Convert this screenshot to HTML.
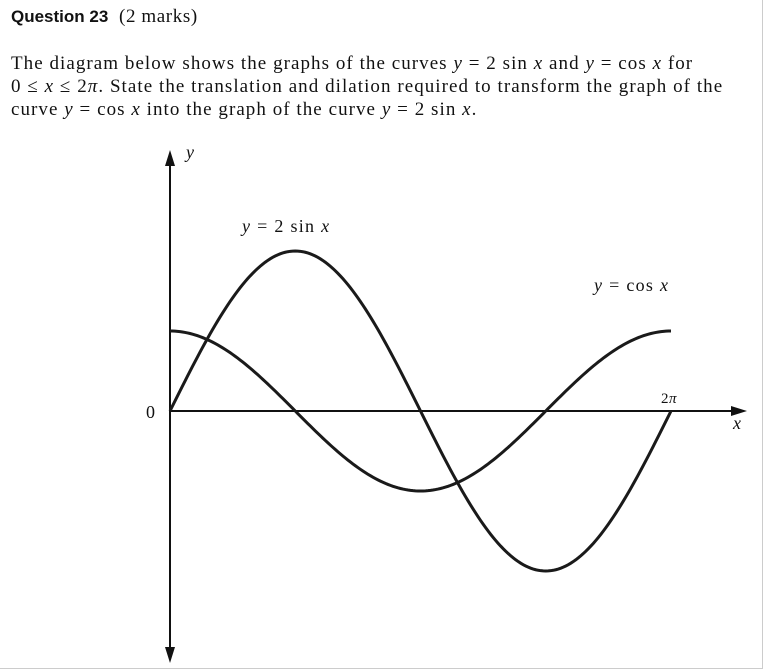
<!DOCTYPE html>
<html><head><meta charset="utf-8"><style>
body{margin:0;width:764px;height:671px;background:#fff;overflow:hidden;position:relative;font-family:"Liberation Serif",serif;color:#111}
#frame{position:absolute;left:0;top:0;width:762px;height:668px;border-right:1px solid #ccc;border-bottom:1px solid #ccc}
.t{position:absolute;white-space:nowrap}
i{font-style:italic}
</style></head><body>
<div id="frame"></div>
<div class="t" style="left:11px;top:6px;font-size:19px;letter-spacing:0.6px"><b style="font-family:'Liberation Sans',sans-serif;font-size:17px;letter-spacing:0">Question 23</b>&nbsp; (2 marks)</div>
<div class="t" style="left:11px;top:52px;font-size:19px;line-height:23px;letter-spacing:1.05px">The diagram below shows the graphs of the curves <i>y</i> = 2 sin <i>x</i> and <i>y</i> = cos <i>x</i> for<br>0 ≤ <i>x</i> ≤ 2<i>π</i>. State the translation and dilation required to transform the graph of the<br>curve <i>y</i> = cos <i>x</i> into the graph of the curve <i>y</i> = 2 sin <i>x</i>.</div>
<svg id="chart" width="764" height="671" style="position:absolute;left:0;top:0">
<g id="axes" stroke="#111" stroke-width="2" fill="#111"></g>
<g id="curves" fill="none" stroke="#1a1a1a" stroke-width="3"></g>
<g font-family="Liberation Serif,serif" font-size="18" fill="#111" letter-spacing="1.3">
<text x="186" y="158" font-style="italic">y</text>
<text x="733" y="429" font-style="italic">x</text>
<text x="146" y="418">0</text>
<text x="661" y="403" font-size="15" letter-spacing="0.5">2<tspan font-style="italic">π</tspan></text>
<text x="242" y="232"><tspan font-style="italic">y</tspan> = 2 sin <tspan font-style="italic">x</tspan></text>
<text x="594" y="291"><tspan font-style="italic">y</tspan> = cos <tspan font-style="italic">x</tspan></text>
</g>
</svg>
<script>
const xDomain=[0,2*Math.PI];
const sinAmplitude=[2];
const cosAmplitude=[1];
const x0=170,x1=671,yz=411,unit=80;
const sx=v=>x0+(v/xDomain[1])*(x1-x0);
const sy=v=>yz-v*unit;
const ns='http://www.w3.org/2000/svg';
const ax=document.getElementById('axes');
function el(t,a,p){const e=document.createElementNS(ns,t);for(const k in a)e.setAttribute(k,a[k]);p.appendChild(e);return e;}
let e=el('line',{x1:170,y1:160,x2:170,y2:655},ax);


e=el('line',{x1:170,y1:411,x2:738,y2:411},ax);


e=el('polygon',{points:'170,150 165,166 175,166',stroke:'none'},ax);


e=el('polygon',{points:'170,663 165,647 175,647',stroke:'none'},ax);


e=el('polygon',{points:'747,411 731,406 731,416',stroke:'none'},ax);


const cg=document.getElementById('curves');
function curve(f){let d='';for(let i=0;i<=200;i++){const v=xDomain[0]+(xDomain[1]-xDomain[0])*i/200;d+=(i?'L':'M')+sx(v).toFixed(2)+','+sy(f(v)).toFixed(2);}return d;}
e=el('path',{d:curve(v=>sinAmplitude[0]*Math.sin(v))},cg);


e=el('path',{d:curve(v=>cosAmplitude[0]*Math.cos(v))},cg);


</script>
</body></html>
